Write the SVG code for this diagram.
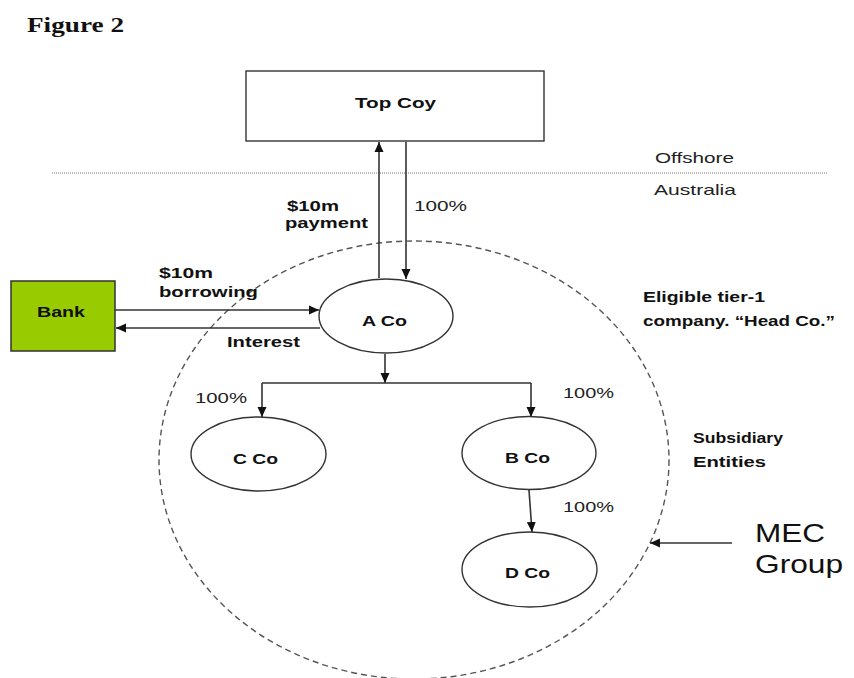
<svg xmlns="http://www.w3.org/2000/svg" width="854" height="678" viewBox="0 0 854 678">
<style>
.bg{fill:#ffffff}
.lbl{font-family:"Liberation Sans",Arial,sans-serif;font-size:15px;font-weight:bold;fill:#111}
.pct{font-family:"Liberation Sans",Arial,sans-serif;font-size:14px;fill:#222}
.reg{font-family:"Liberation Sans",Arial,sans-serif;font-size:15px;fill:#222}
.big{font-family:"Liberation Sans",Arial,sans-serif;font-size:26px;fill:#111}
.fig{font-family:"Liberation Serif","Times New Roman",serif;font-size:20px;font-weight:bold;fill:#111}
.node{fill:#ffffff;stroke:#333;stroke-width:1.4}
.bank{fill:#99cc00;stroke:#333;stroke-width:1.5}
.conn{fill:none;stroke:#333;stroke-width:1.6}
.group{fill:none;stroke:#555;stroke-width:1.4;stroke-dasharray:6 4}
.border{fill:none;stroke:#777;stroke-width:1;stroke-dasharray:1 1}
</style>
<defs>
<marker id="ah" viewBox="0 0 10 10" refX="10" refY="5" markerWidth="10" markerHeight="10" markerUnits="userSpaceOnUse" orient="auto">
<path d="M0,0.5 L10,5 L0,9.5 z" fill="#111"/>
</marker>
</defs>
<rect class="bg" x="0" y="0" width="854" height="678"/>

<text class="fig" x="27" y="32" textLength="97" lengthAdjust="spacingAndGlyphs">Figure 2</text>

<line class="border" x1="52" y1="173" x2="828" y2="173"/>
<text class="reg" x="655" y="163" textLength="79" lengthAdjust="spacingAndGlyphs">Offshore</text>
<text class="reg" x="654" y="195" textLength="82" lengthAdjust="spacingAndGlyphs">Australia</text>

<g id="mec-group">
<ellipse class="group" cx="414" cy="460" rx="255" ry="219"/>
<text class="big" x="755" y="542" textLength="70" lengthAdjust="spacingAndGlyphs">MEC</text>
<text class="big" x="755" y="573" textLength="88" lengthAdjust="spacingAndGlyphs">Group</text>
</g>

<g id="connectors">
<line class="conn" x1="379" y1="278" x2="379" y2="142" marker-end="url(#ah)"/>
<line class="conn" x1="406" y1="142" x2="406" y2="279" marker-end="url(#ah)"/>
<line class="conn" x1="115" y1="310" x2="319" y2="310" marker-end="url(#ah)"/>
<line class="conn" x1="320" y1="328" x2="116" y2="328" marker-end="url(#ah)"/>
<line class="conn" x1="385" y1="354" x2="385" y2="383" marker-end="url(#ah)"/>
<line class="conn" x1="262" y1="383" x2="531" y2="383"/>
<line class="conn" x1="262" y1="383" x2="262" y2="417" marker-end="url(#ah)"/>
<line class="conn" x1="531" y1="383" x2="531" y2="417" marker-end="url(#ah)"/>
<line class="conn" x1="529" y1="490" x2="532" y2="532" marker-end="url(#ah)"/>
<line class="conn" x1="732" y1="543" x2="650" y2="543" marker-end="url(#ah)"/>
</g>

<g id="labels">
<text class="lbl" x="287" y="211" textLength="52" lengthAdjust="spacingAndGlyphs">$10m</text>
<text class="lbl" x="285" y="228" textLength="83" lengthAdjust="spacingAndGlyphs">payment</text>
<text class="pct" x="414" y="211" textLength="53" lengthAdjust="spacingAndGlyphs">100%</text>
<text class="lbl" x="159" y="278" textLength="54" lengthAdjust="spacingAndGlyphs">$10m</text>
<text class="lbl" x="159" y="297" textLength="99" lengthAdjust="spacingAndGlyphs">borrowing</text>
<text class="lbl" x="227" y="347" textLength="73" lengthAdjust="spacingAndGlyphs">Interest</text>
<text class="pct" x="195" y="403" textLength="52" lengthAdjust="spacingAndGlyphs">100%</text>
<text class="pct" x="563" y="398" textLength="51" lengthAdjust="spacingAndGlyphs">100%</text>
<text class="pct" x="563" y="512" textLength="51" lengthAdjust="spacingAndGlyphs">100%</text>
<text class="lbl" x="643" y="302" textLength="122" lengthAdjust="spacingAndGlyphs">Eligible tier-1</text>
<text class="lbl" x="643" y="326" textLength="192" lengthAdjust="spacingAndGlyphs">company. “Head Co.”</text>
<text class="lbl" x="693" y="443" textLength="90" lengthAdjust="spacingAndGlyphs">Subsidiary</text>
<text class="lbl" x="693" y="467" textLength="73" lengthAdjust="spacingAndGlyphs">Entities</text>
</g>

<g id="top-coy">
<rect class="node" x="246" y="71" width="298" height="70"/>
<text class="lbl" x="355" y="108" textLength="81" lengthAdjust="spacingAndGlyphs">Top Coy</text>
</g>

<g id="bank">
<rect class="bank" x="11" y="281" width="104" height="70"/>
<text class="lbl" x="37" y="317" textLength="48" lengthAdjust="spacingAndGlyphs">Bank</text>
</g>

<g id="a-co">
<ellipse class="node" cx="386" cy="316" rx="67" ry="37"/>
<text class="lbl" x="362" y="326" textLength="45" lengthAdjust="spacingAndGlyphs">A Co</text>
</g>

<g id="c-co">
<ellipse class="node" cx="258.5" cy="454" rx="67.5" ry="37"/>
<text class="lbl" x="233" y="464" textLength="45" lengthAdjust="spacingAndGlyphs">C Co</text>
</g>

<g id="b-co">
<ellipse class="node" cx="529" cy="453" rx="67" ry="36.5"/>
<text class="lbl" x="505" y="463" textLength="45" lengthAdjust="spacingAndGlyphs">B Co</text>
</g>

<g id="d-co">
<ellipse class="node" cx="529.5" cy="569.5" rx="67.5" ry="37.5"/>
<text class="lbl" x="505" y="578" textLength="45" lengthAdjust="spacingAndGlyphs">D Co</text>
</g>
</svg>
